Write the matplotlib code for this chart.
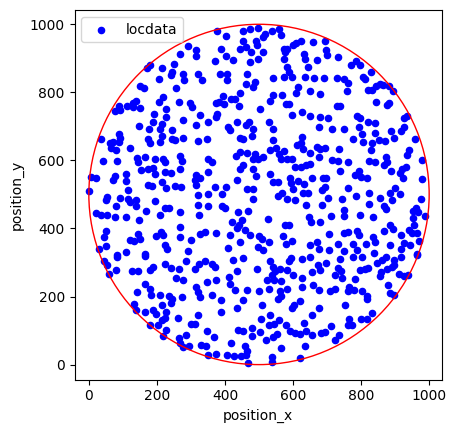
import matplotlib.pyplot as plt

# positions (approximate)
position_x = [
    292, 316, 314, 269, 171, 181, 214, 249, 245, 242, 277, 279, 322, 206, 149, 161, 255, 332, 218, 206,
    139, 129, 129, 112, 88, 78, 92, 151, 265, 297, 304, 190, 226, 226, 277, 328, 188, 216, 147, 177,
    210, 245, 314, 90, 214,
    377, 403, 452, 474, 498, 518, 538, 560, 564, 513, 491, 493, 454, 444, 462, 387, 370, 403, 424, 385,
    407, 405, 513, 572, 582, 577, 574, 599, 609, 623, 660, 631, 636, 643, 670, 476, 498, 474, 582, 587,
    572, 597, 540, 464, 636, 662, 616, 609, 651, 678, 568, 542, 533, 578, 588, 462, 488, 483, 444, 393,
    383, 397, 375, 417, 429, 442, 503, 377, 375, 351, 434, 472, 462, 409, 415, 483, 528, 542, 596, 626,
    649, 680, 675,
    695, 698, 700, 731, 769, 786, 796, 690, 729, 751, 761, 806, 812, 830, 759, 820, 833, 845, 855, 865,
    882, 894, 729, 739, 845, 875, 882, 788, 798, 702, 926, 936, 793, 820, 842, 715, 749, 803, 842, 887,
    916, 926,
    36, 63, 70, 66, 80, 90, 92, 120, 174, 179, 208, 245, 252, 277, 321, 41, 82, 141, 144, 164,
    193, 218, 223, 269, 275, 154, 174, 188, 193, 223, 242, 269, 316, 328, 311, 7, 21, 78, 72, 110,
    110, 174, 186, 216, 228, 252, 272, 316, 0, 115, 53, 49, 92, 115, 120, 139, 139, 80, 193, 223,
    236, 267, 321, 321, 21, 36, 53, 78, 108, 147, 169, 210, 324, 269, 49, 46, 144, 120, 134, 151,
    196, 213, 218, 267, 301, 326, 51, 29, 82, 108, 164, 223, 230, 292,
    348, 444, 454, 479, 542, 626, 670, 680, 351, 361, 432, 444, 464, 488, 483, 498, 513, 533, 550, 560,
    572, 564, 582, 596, 613, 623, 629, 651, 639, 623, 606, 651, 675, 454, 444, 483, 351, 434, 491, 533,
    542, 557, 592, 594, 616, 633, 655, 688, 370, 403, 466, 483, 483, 351, 390, 599, 567, 557, 582, 606,
    629, 643, 639, 685, 685, 351, 390, 400, 439, 469, 449, 442, 434, 420, 459, 415, 375, 341, 525, 577,
    587, 646, 653, 680, 570, 528, 474, 501, 508, 498, 513, 410, 444, 580, 596, 651, 670, 675,
    695, 734, 777, 806, 833, 828, 852, 869, 896, 957, 941, 936, 715, 731, 761, 739, 823, 842, 872, 875,
    867, 980, 783, 793, 800, 818, 887, 921, 931, 914, 924, 980, 698, 695, 761, 786, 823, 901, 885, 914,
    855, 892, 702, 744, 977, 823, 867, 872, 960, 967, 953, 987, 751, 751, 712, 798, 835, 955, 953, 885,
    894, 867, 751, 761, 788, 793, 705, 916, 941, 950, 965, 835, 842, 970, 777, 731, 813, 926, 944, 885,
    705, 749, 788, 839, 918, 965,
    46, 53, 59, 80, 82, 127, 144, 164, 179, 188, 223, 240, 265, 285, 311, 324, 277, 257, 164, 141,
    179, 184, 208, 236, 245, 240, 216, 275, 316, 321, 328, 134, 139, 164, 188, 196, 228, 223, 203, 216,
    262, 321, 301, 311, 179, 228, 218, 265, 285, 295, 277, 267, 331,
    341, 361, 370, 424, 452, 533, 542, 547, 538, 562, 587, 594, 582, 599, 626, 649, 655, 672, 680, 348,
    373, 413, 415, 434, 429, 495, 523, 544, 564, 582, 562, 564, 557, 626, 626, 660, 675, 361, 387, 452,
    466, 501, 528, 508, 434, 387, 596, 603, 619, 655, 675, 533, 505, 528, 544, 560, 580, 590, 606, 619,
    631, 639, 655, 682, 348, 367, 439, 454, 479, 479, 503, 521, 542, 552, 636, 417, 459, 464, 344, 373,
    351, 407, 426, 446, 462, 469, 538, 538, 564, 619,
    698, 739, 731, 724, 741, 744, 777, 803, 798, 810, 820, 783, 847, 862, 872, 898, 916, 965, 859, 877,
    892, 898, 855, 911, 926, 938, 879, 885, 896, 708, 724, 764, 761, 778, 803, 816, 818, 754, 764, 761,
    774, 800, 816, 833, 712, 734, 724, 695,
]
position_y = [
    936, 923, 908, 913, 871, 879, 872, 884, 861, 850, 855, 835, 855, 840, 820, 814, 812, 835, 786, 773,
    776, 769, 756, 761, 761, 744, 747, 754, 771, 769, 756, 737, 752, 727, 720, 732, 714, 707, 701, 691,
    691, 688, 705, 678, 673,
    979, 967, 979, 987, 989, 972, 979, 985, 969, 962, 952, 940, 950, 928, 933, 926, 891, 906, 896, 855,
    855, 835, 920, 926, 928, 918, 897, 940, 946, 952, 948, 913, 899, 874, 894, 920, 899, 889, 874, 859,
    845, 845, 842, 855, 845, 842, 815, 799, 803, 796, 791, 791, 776, 766, 766, 825, 830, 815, 799, 789,
    773, 766, 769, 779, 781, 759, 752, 737, 727, 714, 712, 714, 703, 698, 688, 691, 712, 693, 732, 742,
    730, 727, 698,
    952, 923, 910, 904, 881, 891, 879, 841, 842, 838, 828, 845, 838, 859, 803, 808, 806, 820, 825, 822,
    818, 803, 761, 761, 771, 763, 769, 730, 724, 724, 724, 730, 698, 712, 710, 693, 691, 678, 681, 685,
    685, 698,
    664, 650, 654, 635, 630, 654, 666, 635, 664, 652, 654, 662, 659, 666, 656, 598, 598, 607, 594, 610,
    605, 605, 594, 613, 598, 571, 576, 578, 561, 566, 564, 576, 558, 549, 542, 552, 549, 554, 542, 561,
    539, 529, 525, 537, 519, 525, 522, 527, 509, 512, 493, 483, 490, 486, 478, 483, 466, 466, 480, 460,
    460, 447, 498, 468, 444, 441, 441, 434, 434, 424, 451, 439, 441, 404, 392, 375, 385, 365, 362, 368,
    378, 390, 382, 375, 365, 385, 349, 341, 323, 331, 326, 351, 339, 333,
    664, 666, 662, 672, 659, 669, 640, 633, 605, 594, 613, 625, 623, 620, 603, 603, 610, 630, 635, 620,
    627, 603, 603, 605, 645, 650, 633, 623, 586, 581, 581, 588, 610, 586, 574, 574, 566, 542, 554, 561,
    537, 537, 547, 535, 539, 532, 549, 547, 522, 522, 515, 515, 488, 500, 500, 515, 503, 496, 486, 483,
    503, 503, 470, 512, 470, 466, 466, 460, 447, 451, 424, 411, 400, 419, 395, 382, 388, 390, 427, 409,
    409, 434, 419, 419, 378, 360, 380, 378, 368, 346, 336, 343, 360, 355, 362, 351, 360, 341,
    635, 633, 662, 654, 652, 630, 659, 656, 666, 662, 630, 617, 600, 598, 594, 568, 598, 596, 610, 596,
    586, 600, 556, 568, 551, 547, 568, 576, 581, 564, 549, 545, 547, 522, 519, 496, 503, 519, 503, 500,
    490, 483, 490, 488, 488, 473, 466, 456, 460, 449, 451, 437, 453, 437, 437, 439, 434, 411, 431, 409,
    398, 392, 388, 390, 392, 380, 385, 380, 395, 388, 388, 375, 360, 362, 355, 353, 355, 358, 351, 351,
    336, 333, 336, 329, 341, 326,
    303, 292, 267, 277, 316, 274, 274, 319, 277, 287, 297, 284, 280, 303, 280, 297, 250, 254, 238, 213,
    223, 205, 205, 203, 194, 182, 176, 198, 228, 213, 198, 179, 159, 154, 159, 150, 156, 137, 117, 130,
    137, 145, 120, 120, 117, 103, 84, 78, 86, 54, 51, 64, 58,
    303, 297, 287, 306, 313, 303, 287, 274, 262, 280, 303, 313, 277, 264, 309, 316, 272, 292, 277, 243,
    250, 257, 238, 274, 218, 280, 250, 248, 245, 223, 215, 201, 192, 254, 228, 235, 218, 205, 189, 189,
    218, 215, 223, 174, 166, 154, 166, 176, 186, 147, 166, 145, 133, 115, 120, 130, 115, 98, 94, 91,
    123, 98, 88, 94, 100, 81, 103, 98, 107, 84, 96, 71, 81, 91, 56, 64, 54, 39, 56, 32,
    27, 27, 25, 25, 29, 5, 22, 9, 49, 19,
    299, 311, 284, 264, 274, 254, 316, 316, 277, 280, 284, 252, 299, 306, 316, 306, 316, 321, 272, 280,
    287, 294, 260, 267, 260, 264, 235, 211, 205, 215, 223, 228, 215, 218, 215, 201, 192, 174, 135, 115,
    117, 133, 133, 152, 113, 88, 71, 96,
]

fig, ax = plt.subplots()
ax.scatter(position_x, position_y, s=20, c='blue', label='locdata')

circle = plt.Circle((500, 500), 500, color='red', fill=False, linewidth=1)
ax.add_artist(circle)

ax.set_xlim(-42, 1037)
ax.set_ylim(-44, 1042)
ax.set_aspect('equal')
ax.set_xlabel('position_x')
ax.set_ylabel('position_y')
ax.legend(loc='upper left')

plt.savefig('out.png', dpi=100, bbox_inches='tight')
plt.close()
